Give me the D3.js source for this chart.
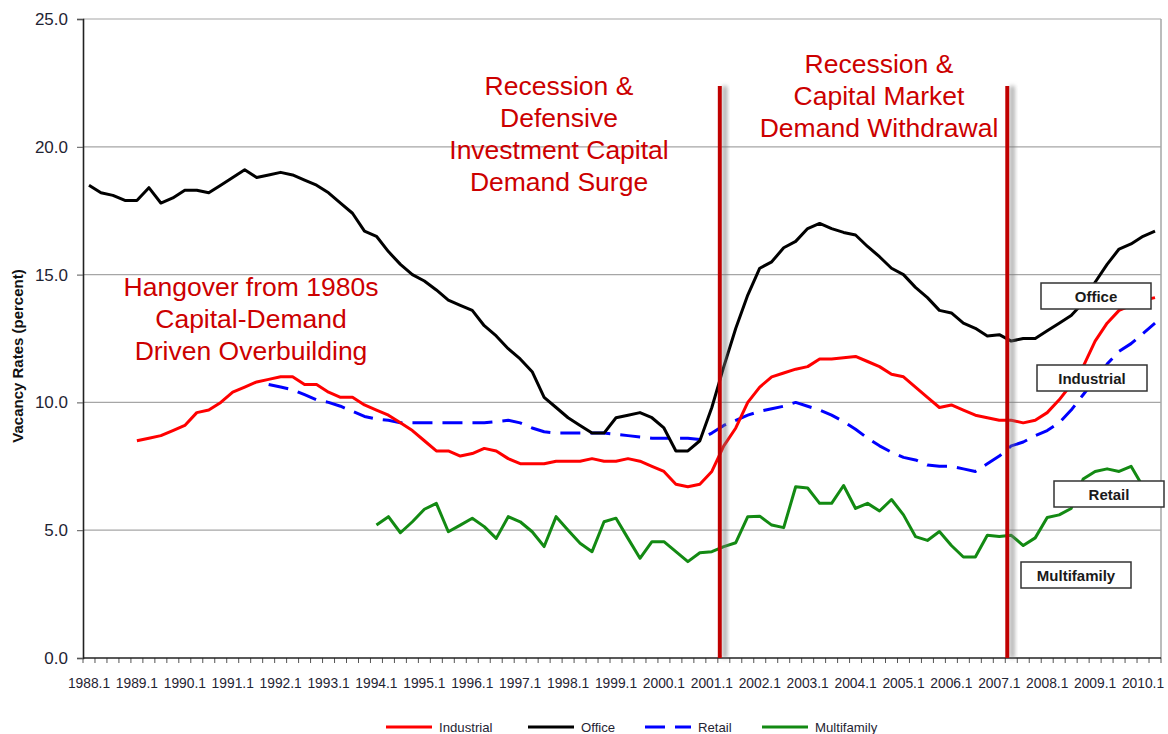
<!DOCTYPE html>
<html>
<head>
<meta charset="utf-8">
<script src="https://cdn.jsdelivr.net/npm/d3@7"></script>
<style>
  body { margin: 0; background: #fff; }
  svg text { font-family: "Liberation Sans", Arial, sans-serif; }
</style>
</head>
<body>
<div id="chart-area"></div>
<script>
// quarters 1988.1 .. 2010.2
var quarters = [];
d3.range(1988, 2011).forEach(function (yr) {
	[1, 2, 3, 4].forEach(function (q) {
		if (yr < 2010 || q <= 2) quarters.push(yr + "." + q);
	});
});

// vacancy rates (percent), null = no data yet
var office = [18.5, 18.2, 18.1, 17.9, 17.9, 18.4, 17.8, 18.0, 18.3, 18.3, 18.2, 18.5, 18.8, 19.1, 18.8, 18.9,
	19.0, 18.9, 18.7, 18.5, 18.2, 17.8, 17.4, 16.7, 16.5, 15.9, 15.4, 15.0, 14.75, 14.4, 14.0, 13.8,
	13.6, 13.0, 12.6, 12.1, 11.7, 11.2, 10.2, 9.8, 9.4, 9.1, 8.8, 8.8, 9.4, 9.5, 9.6, 9.4,
	9.0, 8.1, 8.1, 8.5, 9.8, 11.4, 12.9, 14.2, 15.25, 15.5, 16.05, 16.3, 16.8, 17.0, 16.8, 16.65,
	16.55, 16.1, 15.7, 15.25, 15.0, 14.5, 14.1, 13.6, 13.5, 13.1, 12.9, 12.6, 12.65, 12.4, 12.5, 12.5,
	12.8, 13.1, 13.4, 13.9, 14.7, 15.4, 16.0, 16.2, 16.5, 16.7];

var industrial = [null, null, null, null, 8.5, 8.6, 8.7, 8.9, 9.1, 9.6, 9.7, 10.0, 10.4, 10.6, 10.8, 10.9,
	11.0, 11.0, 10.7, 10.7, 10.4, 10.2, 10.2, 9.9, 9.7, 9.5, 9.2, 8.9, 8.5, 8.1, 8.1, 7.9,
	8.0, 8.2, 8.1, 7.8, 7.6, 7.6, 7.6, 7.7, 7.7, 7.7, 7.8, 7.7, 7.7, 7.8, 7.7, 7.5,
	7.3, 6.8, 6.7, 6.8, 7.3, 8.3, 9.0, 10.0, 10.6, 11.0, 11.15, 11.3, 11.4, 11.7, 11.7, 11.75,
	11.8, 11.6, 11.4, 11.1, 11.0, 10.6, 10.2, 9.8, 9.9, 9.7, 9.5, 9.4, 9.3, 9.3, 9.2, 9.3,
	9.6, 10.1, 10.7, 11.4, 12.4, 13.1, 13.6, 13.8, 14.0, 14.1];

var retail = [null, null, null, null, null, null, null, null, null, null, null, null, null, null, null, 10.7,
	10.6, 10.5, 10.3, 10.1, 10.0, 9.85, 9.65, 9.45, 9.35, 9.3, 9.2, 9.2, 9.2, 9.2, 9.2, 9.2,
	9.2, 9.2, 9.25, 9.3, 9.2, 9.0, 8.85, 8.8, 8.8, 8.8, 8.8, 8.8, 8.75, 8.7, 8.65, 8.6,
	8.6, 8.6, 8.6, 8.55, 8.8, 9.1, 9.3, 9.5, 9.65, 9.75, 9.85, 10.0, 9.85, 9.7, 9.5, 9.25,
	8.95, 8.6, 8.3, 8.05, 7.85, 7.75, 7.55, 7.5, 7.5, 7.4, 7.3, 7.6, 7.9, 8.3, 8.45, 8.7,
	8.9, 9.2, 9.7, 10.3, 10.9, 11.5, 12.0, 12.3, 12.7, 13.1];

var multifamily = [null, null, null, null, null, null, null, null, null, null, null, null, null, null, null, null,
	null, null, null, null, null, null, null, null, 5.2, 5.53, 4.9, 5.33, 5.82, 6.05, 4.94, 5.2,
	5.47, 5.14, 4.68, 5.53, 5.33, 4.94, 4.36, 5.53, 5.0, 4.49, 4.16, 5.33, 5.47, 4.68, 3.9, 4.55,
	4.55, 4.16, 3.77, 4.12, 4.16, 4.36, 4.51, 5.53, 5.55, 5.2, 5.1, 6.7, 6.65, 6.05, 6.05, 6.75,
	5.85, 6.05, 5.75, 6.2, 5.6, 4.75, 4.6, 4.95, 4.4, 3.95, 3.95, 4.8, 4.75, 4.8, 4.4, 4.7,
	5.5, 5.6, 5.85, 7.0, 7.3, 7.4, 7.3, 7.5, 6.7, 6.5];

var seriesNames = ["Industrial", "Office", "Retail", "Multifamily"];
var yTicks = [0, 5, 10, 15, 20, 25];
var recessionQuarters = ["2001.2", "2007.2"];

var annotations = [
	["Hangover from 1980s", "Capital-Demand", "Driven Overbuilding"],
	["Recession &", "Defensive", "Investment Capital", "Demand Surge"],
	["Recession &", "Capital Market", "Demand Withdrawal"]
];
var boxLabels = ["Office", "Industrial", "Retail", "Multifamily"];

// layout
var svg_x = 1168, svg_y = 734;
var plot = {left: 83, right: 1161, top: 19, bottom: 658};

var svg = d3.select("#chart-area")
	.append("svg")
		.attr("width", svg_x)
		.attr("height", svg_y);

// shadow behind the red recession lines
var defs = svg.append("defs");
var f = defs.append("filter").attr("id", "shadow")
	.attr("x", "-100%").attr("y", "-5%").attr("width", "400%").attr("height", "110%");
f.append("feDropShadow")
	.attr("dx", 5).attr("dy", 0).attr("stdDeviation", 2.2)
	.attr("flood-color", "#777").attr("flood-opacity", 0.7);

//scales
var x = d3.scaleBand()
	.domain(quarters)
	.range([plot.left, plot.right])
	.paddingInner(0).paddingOuter(0);
var y = d3.scaleLinear()
	.domain([0, 25])
	.range([plot.bottom, plot.top]);
var cx = function (i) { return x(quarters[i]) + x.bandwidth() / 2; };

//gridlines
svg.append("g")
	.selectAll("line")
	.data(yTicks.filter(function (d) { return d > 0; }))
	.enter().append("line")
		.attr("x1", plot.left).attr("x2", plot.right)
		.attr("y1", function (d) { return y(d); })
		.attr("y2", function (d) { return y(d); })
		.attr("stroke", "#a6a6a6")
		.attr("stroke-width", 1.2);

// right frame
svg.append("line")
	.attr("x1", plot.right).attr("x2", plot.right)
	.attr("y1", y(25)).attr("y2", y(0))
	.attr("stroke", "#a6a6a6").attr("stroke-width", 1.5);

//y axis
var yAxisCall = d3.axisLeft(y)
	.tickValues(yTicks)
	.tickFormat(d3.format(".1f"))
	.tickSize(6)
	.tickPadding(9);
var yAxis = svg.append("g")
	.attr("transform", "translate(" + plot.left + ",0)")
	.call(yAxisCall);
yAxis.select(".domain").attr("stroke", "#222").attr("stroke-width", 1.6);
yAxis.selectAll(".tick line").attr("stroke", "#555");
yAxis.selectAll("text")
	.attr("font-size", 17)
	.attr("fill", "#1f2433")
	.style("font-family", "'Liberation Sans', Arial, sans-serif");

//x axis: minor tick at every quarter boundary, label every 4 quarters
svg.append("g")
	.selectAll("line")
	.data(quarters.concat(["end"]))
	.enter().append("line")
		.attr("x1", function (d) { return d === "end" ? plot.right : x(d); })
		.attr("x2", function (d) { return d === "end" ? plot.right : x(d); })
		.attr("y1", plot.bottom)
		.attr("y2", plot.bottom + 5)
		.attr("stroke", "#555");
svg.append("line")
	.attr("x1", plot.left).attr("x2", plot.right)
	.attr("y1", plot.bottom).attr("y2", plot.bottom)
	.attr("stroke", "#222").attr("stroke-width", 1.6);
svg.append("g")
	.selectAll("text")
	.data(quarters.filter(function (d, i) { return i % 4 === 0; }))
	.enter().append("text")
		.attr("x", function (d) { return x(d) + x.bandwidth() / 2; })
		.attr("y", plot.bottom + 30)
		.attr("text-anchor", "middle")
		.attr("font-size", 13.8)
		.attr("fill", "#1f2433")
		.text(function (d) { return d; });

//y label
svg.append("text")
	.attr("transform", "rotate(-90)")
	.attr("x", -356)
	.attr("y", 23)
	.attr("text-anchor", "middle")
	.attr("font-size", 15)
	.attr("font-weight", "bold")
	.attr("fill", "#111")
	.text("Vacancy Rates (percent)");

//lines
var colors = {Industrial: "#ff0000", Office: "#000000", Retail: "#0000ff", Multifamily: "#138a13"};
var dashes = {Industrial: null, Office: null, Retail: "20,10", Multifamily: null};
var values = {Industrial: industrial, Office: office, Retail: retail, Multifamily: multifamily};

var line = d3.line()
	.defined(function (d) { return d !== null; })
	.x(function (d, i) { return cx(i); })
	.y(function (d) { return y(d); });

["Multifamily", "Retail", "Industrial", "Office"].forEach(function (name) {
	svg.append("path")
		.datum(values[name])
		.attr("fill", "none")
		.attr("stroke", colors[name])
		.attr("stroke-width", 3)
		.attr("stroke-linejoin", "round")
		.attr("stroke-dasharray", dashes[name])
		.attr("d", line);
});

//recession markers (rects so the shadow filter has a real box)
svg.append("g")
	.selectAll("rect")
	.data(recessionQuarters)
	.enter().append("rect")
		.attr("x", function (d) { return x(d); })
		.attr("width", 4)
		.attr("y", 86)
		.attr("height", plot.bottom - 86)
		.attr("fill", "#c00000")
		.attr("filter", "url(#shadow)");

//annotation text
var annoPos = [{x: 251, y: 296}, {x: 559, y: 95}, {x: 879, y: 73}];
annotations.forEach(function (lines, k) {
	svg.append("text")
		.attr("text-anchor", "middle")
		.attr("font-size", 26.5)
		.attr("fill", "#cc0000")
		.selectAll("tspan")
		.data(lines)
		.enter().append("tspan")
			.attr("x", annoPos[k].x)
			.attr("y", function (d, i) { return annoPos[k].y + i * 32; })
			.text(function (d) { return d; });
});

//series label boxes
var boxPos = {Office: [1041, 283], Industrial: [1037, 365], Retail: [1054, 481], Multifamily: [1021, 562]};
boxLabels.forEach(function (name) {
	var b = svg.append("g").attr("transform", "translate(" + boxPos[name][0] + "," + boxPos[name][1] + ")");
	b.append("rect")
		.attr("width", 110).attr("height", 26)
		.attr("fill", "#fff")
		.attr("stroke", "#333")
		.attr("stroke-width", 1.5);
	b.append("text")
		.attr("x", 55).attr("y", 18.5)
		.attr("text-anchor", "middle")
		.attr("font-size", 15)
		.attr("font-weight", "bold")
		.attr("fill", "#1a1a1a")
		.text(name);
});

//legend
var legendX = [386, 528, 645, 762];
var legend = svg.append("g")
	.selectAll("g")
	.data(seriesNames)
	.enter().append("g")
		.attr("transform", function (d, i) { return "translate(" + legendX[i] + ",727)"; });
legend.append("line")
	.attr("x1", 0).attr("x2", 46)
	.attr("stroke", function (d) { return colors[d]; })
	.attr("stroke-width", 3)
	.attr("stroke-dasharray", function (d) { return dashes[d]; });
legend.append("text")
	.attr("x", 53).attr("y", 4.5)
	.attr("font-size", 13.2)
	.attr("fill", "#1f2433")
	.text(function (d) { return d; });
</script>
</body>
</html>
